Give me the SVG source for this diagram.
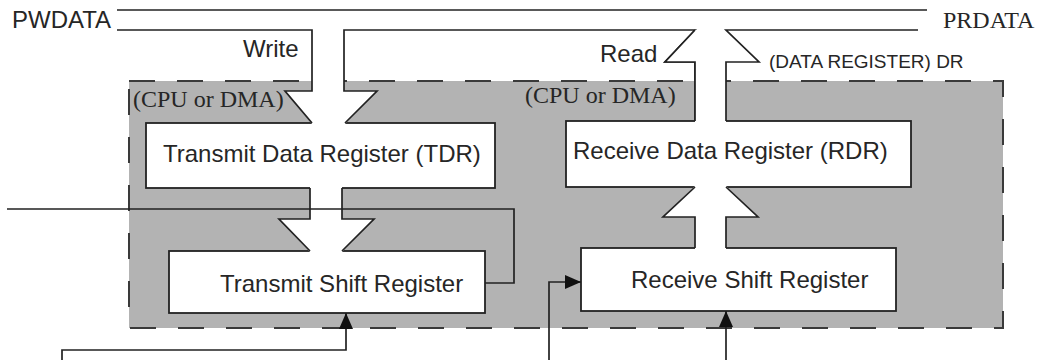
<svg xmlns="http://www.w3.org/2000/svg" width="1043" height="360" viewBox="0 0 1043 360">
<style>
.ln{stroke:#222;stroke-width:1.7;fill:none}
.box{fill:#fff;stroke:#222;stroke-width:1.8}
.wh{fill:#fff;stroke:none}
.t{font-family:"Liberation Sans",Arial,sans-serif;font-size:24px;fill:#262626}
.s{font-family:"Liberation Serif","Times New Roman",serif;font-size:24px;fill:#262626}
</style>
<defs>
<marker id="ah" viewBox="0 0 16 14" refX="16" refY="7" markerWidth="16" markerHeight="14" markerUnits="userSpaceOnUse" orient="auto">
<path d="M0,0 L16,7 L0,14 z" fill="#111"/>
</marker>
</defs>
<rect width="1043" height="360" fill="#fff"/>

<g id="uart-block">
<rect x="129" y="81" width="874" height="247" fill="#b3b3b3" stroke="#3a3a3a" stroke-width="2" stroke-dasharray="26 22"/>
<text class="s" x="133" y="107">(CPU or DMA)</text>
<text class="s" x="525" y="103">(CPU or DMA)</text>
</g>

<g id="bus">
<text class="t" x="12" y="28">PWDATA</text>
<text class="s" x="943" y="28">PRDATA</text>
<text class="t" x="769" y="68" style="font-size:19px">(DATA REGISTER) DR</text>
<path class="ln" d="M117,10 H927"/>
</g>

<g id="tdr">
<rect class="box" x="146" y="123" width="349" height="65"/>
<text class="t" x="163" y="162">Transmit Data Register (TDR)</text>
</g>

<g id="tsr">
<rect class="box" x="169" y="251" width="316" height="62"/>
<text class="t" x="220" y="292">Transmit Shift Register</text>
</g>

<g id="rdr">
<rect class="box" x="566" y="121" width="345" height="66"/>
<text class="t" x="573" y="159">Receive Data Register (RDR)</text>
</g>

<g id="rsr">
<rect class="box" x="581" y="248" width="315" height="63"/>
<text class="t" x="631" y="288">Receive Shift Register</text>
</g>

<g id="connectors">
<!-- write arrow -->
<polygon class="wh" points="312,30 344,30 344,91 377,91 345,124 312,124 285,91 312,91"/>
<path class="ln" d="M117,30 H312 V91 H285 L312,123"/>
<path class="ln" d="M345,123 L377,91 H344 V30 H695 L665,62 H695 V121"/>
<text class="t" x="243" y="57">Write</text>
<!-- read arrow -->
<polygon class="wh" points="695,30 726,30 759,62 726,62 726,122 695,122 695,62 665,62"/>
<path class="ln" d="M695,30 L665,62 H695 V121"/>
<path class="ln" d="M918,30 H726 L759,62 H726 V121"/>
<text class="t" x="600" y="62">Read</text>
<!-- TDR to TSR -->
<polygon class="wh" points="310,187 342,187 342,219 374,219 342,252 310,252 279,219 310,219"/>
<path class="ln" d="M310,188 V219 H279 L310,251"/>
<path class="ln" d="M342,188 V219 H374 L342,251"/>
<!-- RSR to RDR -->
<polygon class="wh" points="695,249 726,249 726,217 758,217 726,186 695,186 663,217 695,217"/>
<path class="ln" d="M695,248 V217 H663 L695,187"/>
<path class="ln" d="M726,248 V217 H758 L726,187"/>
<!-- control lines -->
<path class="ln" d="M7,209 H514 V283 H485"/>
<path class="ln" d="M62,360 V350 H346 V313" marker-end="url(#ah)"/>
<path class="ln" d="M549,360 V282 H581" marker-end="url(#ah)"/>
<path class="ln" d="M726,360 V311" marker-end="url(#ah)"/>
</g>
</svg>
